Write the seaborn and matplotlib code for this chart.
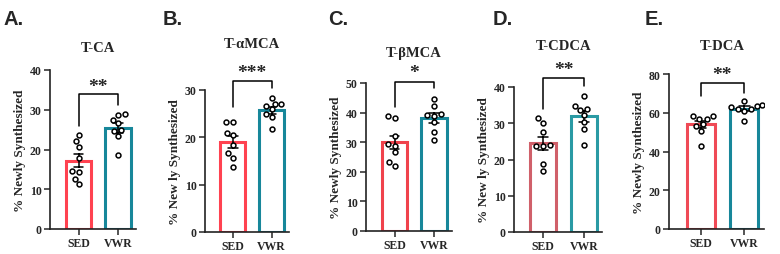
import numpy as np
import pandas as pd
import matplotlib
matplotlib.use('Agg')
import matplotlib.pyplot as plt
import seaborn as sns

sns.set_style('ticks')
plt.rcParams['font.family'] = ['Liberation Serif', 'DejaVu Serif']

groups = ['SED', 'VWR']
letters = ['A.', 'B.', 'C.', 'D.', 'E.']
titles = ['T-CA', 'T-αMCA', 'T-βMCA', 'T-CDCA', 'T-DCA']
ylabels = ['% Newly Synthesized', '% New ly Synthesized', '% Newly Synthesized',
           '% New ly Synthesized', '% Newly Synthesized']
stars = ['**', '***', '*', '**', '**']

# individual animals
sed_ca = [23.6, 22.2, 20.7, 17.8, 14.6, 14.3, 12.6, 11.2]
vwr_ca = [28.9, 28.7, 27.5, 26.6, 24.9, 24.7, 23.5, 18.6]
sed_amca = [23.3, 23.3, 21.0, 20.4, 18.3, 16.6, 15.6, 13.7]
vwr_amca = [28.3, 27.1, 27.1, 26.7, 25.9, 24.9, 24.2, 21.7]
sed_bmca = [38.9, 38.1, 32.2, 29.5, 28.8, 26.6, 23.2, 22.1]
vwr_bmca = [44.7, 42.3, 39.5, 39.1, 38.9, 36.7, 33.5, 30.7]
sed_cdca = [31.4, 30.2, 27.5, 24.1, 23.8, 23.8, 18.7, 16.7]
vwr_cdca = [37.5, 34.8, 33.9, 33.7, 32.2, 30.4, 28.4, 24.1]
sed_dca = [58.5, 58.5, 56.8, 56.8, 54.2, 53.4, 50.8, 43.0]
vwr_dca = [66.3, 64.0, 63.7, 62.8, 62.0, 62.0, 61.1, 55.5]

panels = [(sed_ca, vwr_ca), (sed_amca, vwr_amca), (sed_bmca, vwr_bmca),
          (sed_cdca, vwr_cdca), (sed_dca, vwr_dca)]

yticks = [[0, 10, 20, 30, 40], [0, 10, 20, 30], [0, 10, 20, 30, 40, 50],
          [0, 10, 20, 30, 40], [0, 20, 40, 60, 80]]
# significance bracket: top, left leg end, right leg end, star height
brackets = [(34.0, 25.9, 31.2, 35.8), (31.9, 26.4, 30.4, 33.6), (50.3, 41.9, 48.3, 53.5),
            (42.5, 33.9, 40.3, 44.8), (75.4, 68.6, 70.2, 79.5)]

sed_colors = ['#ff4250', '#ff4250', '#f0424c', '#d0606a', '#ef4a56']
vwr_colors = ['#17879a', '#17879a', '#17879a', '#2a9aa4', '#17879a']

# axes boxes in pixels: left, top, bottom, width
boxes = [(50, 71, 230, 86), (205, 91, 233, 84), (366, 84, 232, 86),
         (514, 88, 233, 88), (669, 75, 230, 95)]
title_y = [48, 44, 53, 46, 47]
letter_x = [3, 163, 328, 493, 645]

W, H = 780, 255
fig = plt.figure(figsize=(W / 100, H / 100), dpi=100)

for i in range(5):
    left, top, bottom, width = boxes[i]
    ax = fig.add_axes([left / W, 1 - bottom / H, width / W, (bottom - top) / H])
    sed, vwr = panels[i]
    df = pd.DataFrame({'group': ['SED'] * len(sed) + ['VWR'] * len(vwr),
                       'value': sed + vwr})
    sns.barplot(data=df, x='group', y='value', order=groups, errorbar='se',
                capsize=0.25, width=0.64, color='white', linewidth=2.2,
                err_kws={'linewidth': 1.1, 'color': 'black'}, ax=ax)
    for p, c in zip(ax.patches, [sed_colors[i], vwr_colors[i]]):
        p.set_edgecolor(c)
        p.set_facecolor('white')
    sns.swarmplot(data=df, x='group', y='value', order=groups, size=3.5,
                  color='white', edgecolor='black', linewidth=1.1, ax=ax, zorder=4)

    ax.set_xlim(-0.72, 1.45)
    ax.set_ylim(0, yticks[i][-1])
    ax.set_yticks(yticks[i])
    ax.set_xlabel('')
    ax.set_ylabel(ylabels[i], fontsize=9.5, fontweight='bold', labelpad=3)
    ax.tick_params(axis='both', labelsize=8.5, width=1.1, length=4, pad=2)
    for lab in ax.get_xticklabels() + ax.get_yticklabels():
        lab.set_fontweight('bold')
    sns.despine(ax=ax)
    for s in ['left', 'bottom']:
        ax.spines[s].set_linewidth(1.2)
        ax.spines[s].set_color('#222222')

    top_b, l_end, r_end, star_y = brackets[i]
    ax.plot([0, 0, 1, 1], [l_end, top_b, top_b, r_end], color='black', lw=1.1,
            clip_on=False)
    ax.text(0.5, star_y, stars[i], ha='center', va='center', fontsize=14,
            fontweight='bold', clip_on=False)

    fig.text((left + width * 0.56) / W, 1 - title_y[i] / H, titles[i], ha='center',
             va='center', fontsize=10.5, fontweight='bold')
    fig.text(letter_x[i] / W, 1 - 20 / H, letters[i], ha='left', va='center',
             fontsize=14.5, fontweight='bold', family=['Liberation Sans', 'DejaVu Sans'])

fig.savefig('out.png', dpi=100)
